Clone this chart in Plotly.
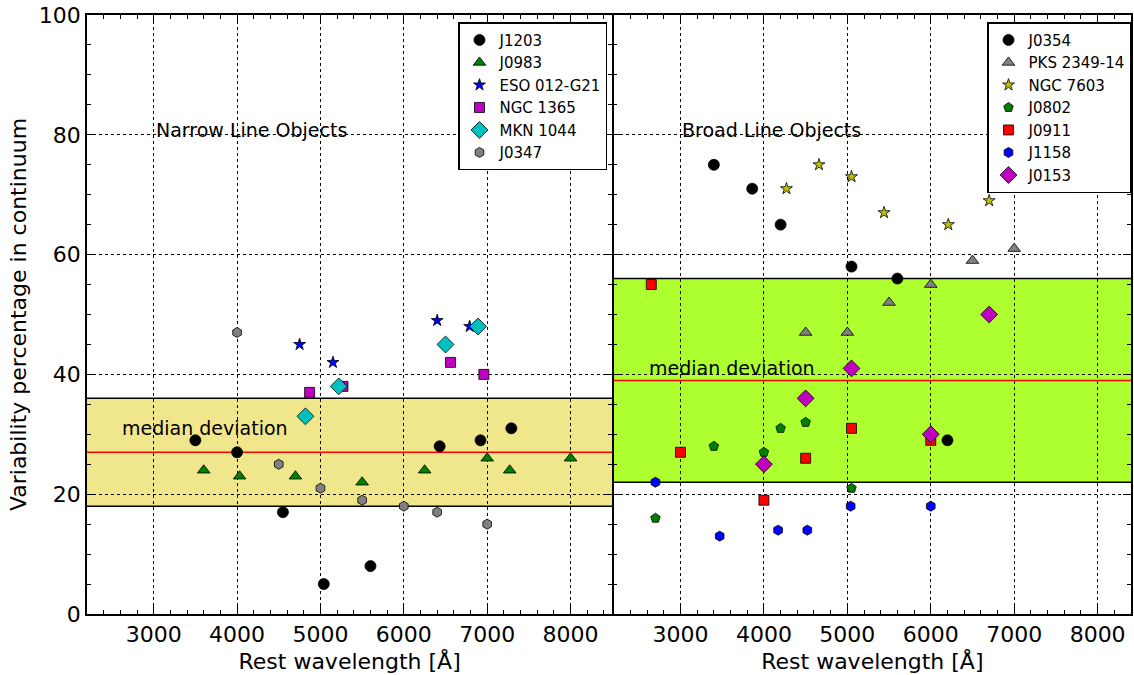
import plotly.graph_objects as go

# ---------------- data ----------------
# Narrow line objects
j1203_x = [3500, 4000, 4550, 5040, 5600, 6430, 6920, 7290]
j1203_y = [29, 27, 17, 5, 8, 28, 29, 31]
j0983_x = [3600, 4030, 4700, 5500, 6250, 7000, 7270, 8000]
j0983_y = [24, 23, 23, 22, 24, 26, 24, 26]
eso_x = [4750, 5150, 6400, 6790]
eso_y = [45, 42, 49, 48]
ngc1365_x = [4870, 5270, 6560, 6960]
ngc1365_y = [37, 38, 42, 40]
mkn1044_x = [4820, 5220, 6500, 6890]
mkn1044_y = [33, 38, 45, 48]
j0347_x = [4000, 4500, 5000, 5500, 6000, 6400, 7000]
j0347_y = [47, 25, 21, 19, 18, 17, 15]

# Broad line objects
j0354_x = [3400, 3860, 4200, 5050, 5600, 6200]
j0354_y = [75, 71, 65, 58, 56, 29]
pks_x = [4500, 5000, 5500, 6000, 6500, 7000]
pks_y = [47, 47, 52, 55, 59, 61]
ngc7603_x = [4270, 4660, 5050, 5440, 6210, 6700]
ngc7603_y = [71, 75, 73, 67, 65, 69]
j0802_x = [2700, 3400, 4000, 4200, 4500, 5050]
j0802_y = [16, 28, 27, 31, 32, 21]
j0911_x = [2650, 3000, 4000, 4500, 5050, 6000]
j0911_y = [55, 27, 19, 26, 31, 29]
j1158_x = [2700, 3470, 4170, 4520, 5040, 6000]
j1158_y = [22, 13, 14, 14, 18, 18]
j0153_x = [4000, 4500, 5050, 6000, 6700]
j0153_y = [25, 36, 41, 30, 50]

nl_band = [18, 36]
nl_median = 27
bl_band = [22, 56]
bl_median = 39

x_ticks = [3000, 4000, 5000, 6000, 7000, 8000]
y_ticks = [0, 20, 40, 60, 80, 100]

# ---------------- figure ----------------
FONT = "DejaVu Sans"
fig = go.Figure()

edge = dict(color="black", width=0.8)

def add(x, y, name, symbol, color, size, xa, ya, legend):
    fig.add_trace(go.Scatter(
        x=x, y=y, mode="markers", name=name, xaxis=xa, yaxis=ya, legend=legend,
        marker=dict(symbol=symbol, color=color, size=size, line=edge)))

add(j1203_x, j1203_y, "J1203", "circle", "black", 11, "x", "y", "legend")
add(j0983_x, j0983_y, "J0983", "triangle-up", "#008000", 11, "x", "y", "legend")
add(eso_x, eso_y, "ESO 012-G21", "star", "#0000ff", 9, "x", "y", "legend")
add(ngc1365_x, ngc1365_y, "NGC 1365", "square", "#bf00bf", 10, "x", "y", "legend")
add(mkn1044_x, mkn1044_y, "MKN 1044", "diamond", "#00bfbf", 13, "x", "y", "legend")
add(j0347_x, j0347_y, "J0347", "hexagon", "#808080", 10, "x", "y", "legend")

add(j0354_x, j0354_y, "J0354", "circle", "black", 11, "x2", "y2", "legend2")
add(pks_x, pks_y, "PKS 2349-14", "triangle-up", "#808080", 11, "x2", "y2", "legend2")
add(ngc7603_x, ngc7603_y, "NGC 7603", "star", "#bfbf00", 9, "x2", "y2", "legend2")
add(j0802_x, j0802_y, "J0802", "pentagon", "#008000", 10, "x2", "y2", "legend2")
add(j0911_x, j0911_y, "J0911", "square", "#ff0000", 10, "x2", "y2", "legend2")
add(j1158_x, j1158_y, "J1158", "hexagon", "#0000ff", 10, "x2", "y2", "legend2")
add(j0153_x, j0153_y, "J0153", "diamond", "#bf00bf", 13, "x2", "y2", "legend2")

# bands (drawn below grid and markers)
for xr, yr, band, med, col in [("x", "y", nl_band, nl_median, "#f0e68c"),
                               ("x2", "y2", bl_band, bl_median, "#adff2f")]:
    fig.add_shape(type="rect", xref=f"{xr} domain", yref=yr, x0=0, x1=1,
                  y0=band[0], y1=band[1], fillcolor=col, line=dict(width=0), layer="below")
    for yv in band:
        fig.add_shape(type="line", xref=f"{xr} domain", yref=yr, x0=0, x1=1,
                      y0=yv, y1=yv, line=dict(color="black", width=1.5), layer="below")
    fig.add_shape(type="line", xref=f"{xr} domain", yref=yr, x0=0, x1=1,
                  y0=med, y1=med, line=dict(color="red", width=1.5), layer="below")

W, H = 1134, 675
ml, mr, mt, mb = 87, 1, 15, 61
pw = W - ml - mr
LW = 1.5
split_l = (614 - ml - LW / 2) / pw
split_r = (614 - ml + LW / 2) / pw

TICKFONT = dict(family=FONT, size=22, color="black")
TITLEFONT = dict(family=FONT, size=22, color="black")

xcommon = dict(
    tickvals=x_ticks, ticks="inside", ticklen=8, tickwidth=1, tickcolor="black",
    minor=dict(dtick=200, tick0=0, ticks="inside", ticklen=4, tickcolor="black", tickwidth=1),
    showline=True, linecolor="black", linewidth=LW, mirror="allticks",
    showgrid=True, gridcolor="black", griddash="dot", gridwidth=1,
    zeroline=False, tickfont=TICKFONT,
    title=dict(text="Rest wavelength [Å]", font=TITLEFONT, standoff=7),
)
ycommon = dict(
    range=[0, 100], tickvals=y_ticks, ticks="inside", ticklen=8, tickwidth=1, tickcolor="black",
    minor=dict(dtick=5, tick0=0, ticks="inside", ticklen=4, tickcolor="black", tickwidth=1),
    showline=True, linecolor="black", linewidth=LW, mirror="allticks",
    showgrid=True, gridcolor="black", griddash="dot", gridwidth=1,
    zeroline=False, tickfont=TICKFONT,
)

fig.update_layout(
    width=W, height=H,
    margin=dict(l=ml, r=mr, t=mt, b=mb),
    paper_bgcolor="white", plot_bgcolor="white",
    font=dict(family=FONT, color="black"),
    xaxis=dict(domain=[0, split_l], range=[2200, 8500], anchor="y", **xcommon),
    xaxis2=dict(domain=[split_r, 1], range=[2200, 8400], anchor="y2", **xcommon),
    yaxis=dict(domain=[0, 1], anchor="x",
               title=dict(text="Variability percentage in continuum", font=TITLEFONT, standoff=6),
               **ycommon),
    yaxis2=dict(domain=[0, 1], anchor="x2", showticklabels=False, **ycommon),
    legend=dict(x=(608 - ml) / pw, y=0.988, xanchor="right", yanchor="top",
                bgcolor="white", bordercolor="black", borderwidth=1.5,
                font=dict(family=FONT, size=15, color="black"), itemwidth=30),
    legend2=dict(x=1.0, y=0.988, xanchor="right", yanchor="top",
                 bgcolor="white", bordercolor="black", borderwidth=1.5,
                 font=dict(family=FONT, size=15, color="black"), itemwidth=30),
    showlegend=True,
)

ann_font = dict(family=FONT, size=19, color="black")
fig.add_annotation(x=3000, y=80.8, xref="x", yref="y", text="Narrow Line Objects",
                   showarrow=False, xanchor="left", yanchor="middle", font=ann_font)
fig.add_annotation(x=3000, y=80.8, xref="x2", yref="y2", text="Broad Line Objects",
                   showarrow=False, xanchor="left", yanchor="middle", font=ann_font)
fig.add_annotation(x=2600, y=31.0, xref="x", yref="y", text="median deviation",
                   showarrow=False, xanchor="left", yanchor="middle", font=ann_font)
fig.add_annotation(x=2600, y=41.0, xref="x2", yref="y2", text="median deviation",
                   showarrow=False, xanchor="left", yanchor="middle", font=ann_font)

fig.write_html("out.html")
